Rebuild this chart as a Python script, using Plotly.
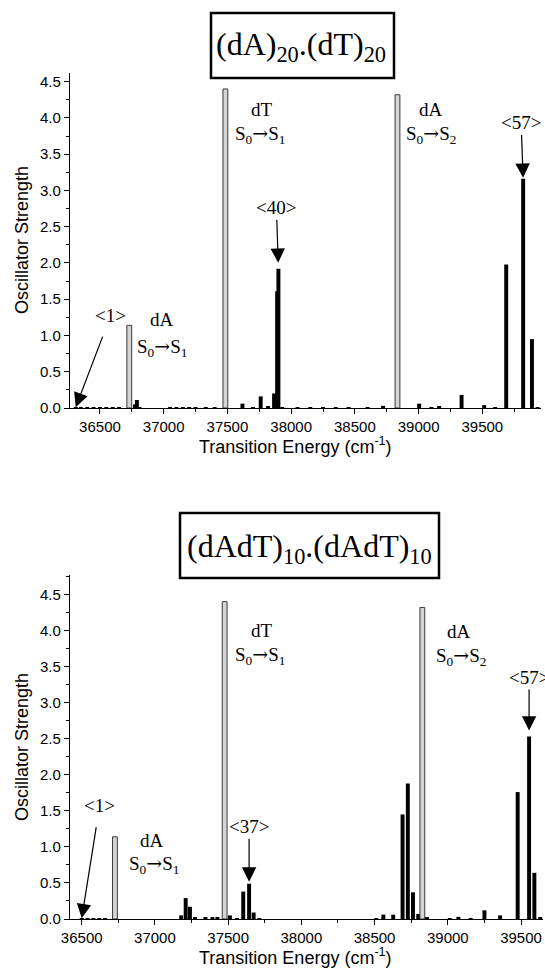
import plotly.graph_objects as go

# ---------------- data ----------------
# Top panel: (dA)20.(dT)20
top_mono_energy = [36730, 37484, 38834]          # monomer transitions (grey bars)
top_mono_strength = [1.14, 4.40, 4.32]
top_energy = [36310, 36350, 36400, 36450, 36500, 36550, 36600, 36650, 36775, 36790, 36810,
              37050, 37100, 37150, 37200, 37250, 37330, 37400, 37618, 37700, 37761, 37819,
              37866, 37890, 37900, 37930, 38050, 38150, 38250, 38350, 38450, 38600, 38721,
              39004, 39100, 39161, 39337, 39514, 39600, 39687, 39820, 39889, 39933]
top_strength = [0.01, 0.005, 0.005, 0.005, 0.005, 0.005, 0.005, 0.005, 0.05, 0.11, 0.01,
                0.005, 0.005, 0.005, 0.005, 0.005, 0.01, 0.005, 0.06, 0.01, 0.16, 0.02,
                0.20, 1.61, 1.92, 0.01, 0.005, 0.005, 0.005, 0.005, 0.005, 0.005, 0.03,
                0.06, 0.01, 0.02, 0.18, 0.04, 0.01, 1.98, 3.16, 0.95, 0.01]

# Bottom panel: (dAdT)10.(dAdT)10
bot_mono_energy = [36727, 37476, 38826]
bot_mono_strength = [1.14, 4.40, 4.32]
bot_energy = [36500, 36540, 36580, 36620, 36660, 37179, 37210, 37239, 37274, 37345, 37393,
              37427, 37512, 37560, 37603, 37643, 37674, 37713, 38511, 38560, 38627, 38691,
              38727, 38762, 38798, 38858, 39013, 39072, 39156, 39250, 39357, 39477, 39555,
              39591, 39631]
bot_strength = [0.01, 0.005, 0.005, 0.005, 0.005, 0.05, 0.29, 0.17, 0.02, 0.02, 0.02,
                0.02, 0.05, 0.01, 0.38, 0.49, 0.09, 0.01, 0.01, 0.06, 0.06, 1.45,
                1.88, 0.37, 0.07, 0.02, 0.01, 0.03, 0.01, 0.12, 0.05, 1.76, 2.53,
                0.64, 0.02]

# labelled states: (label, index into energy list)
top_marks = [("&lt;1&gt;", 0), ("&lt;40&gt;", 24), ("&lt;57&gt;", 40)]
bot_marks = [("&lt;1&gt;", 0), ("&lt;37&gt;", 15), ("&lt;57&gt;", 32)]

y_ticks = [0.0, 0.5, 1.0, 1.5, 2.0, 2.5, 3.0, 3.5, 4.0, 4.5]
x_ticks = [36500, 37000, 37500, 38000, 38500, 39000, 39500]

W, H = 545, 976
def px(x):
    return x / W
def py(y):
    return 1 - y / H

SERIF = "Liberation Serif, Times New Roman, serif"
SANS = "Liberation Sans, Arial, sans-serif"

fig = go.Figure()
fig.add_trace(go.Bar(x=top_energy, y=top_strength, width=31, xaxis="x", yaxis="y",
                     marker=dict(color="black", line=dict(width=0)), showlegend=False))
fig.add_trace(go.Bar(x=top_mono_energy, y=top_mono_strength, width=38, xaxis="x", yaxis="y",
                     marker=dict(color="#d4d4d4", line=dict(color="#3a3a3a", width=1)), showlegend=False))
fig.add_trace(go.Bar(x=bot_energy, y=bot_strength, width=27, xaxis="x2", yaxis="y2",
                     marker=dict(color="black", line=dict(width=0)), showlegend=False))
fig.add_trace(go.Bar(x=bot_mono_energy, y=bot_mono_strength, width=33, xaxis="x2", yaxis="y2",
                     marker=dict(color="#d4d4d4", line=dict(color="#3a3a3a", width=1)), showlegend=False))

axis_common = dict(showline=True, linecolor="black", linewidth=1.3, ticks="outside",
                   ticklen=5, tickwidth=1.3, tickcolor="black", showgrid=False, zeroline=False,
                   automargin=False,
                   tickfont=dict(family=SANS, size=15, color="black"))

fig.update_layout(
    width=W, height=H, margin=dict(l=0, r=0, t=0, b=0, pad=0),
    paper_bgcolor="white", plot_bgcolor="white", barmode="overlay",
    xaxis=dict(domain=[px(70), px(541)], anchor="y", range=[36265, 39960],
               tickvals=x_ticks, tickformat="d",
               minor=dict(dtick=250, tick0=36500, ticks="outside", ticklen=3, tickcolor="black", tickwidth=1),
               **axis_common),
    yaxis=dict(domain=[py(408), py(73)], anchor="x", range=[0, 4.62],
               tickvals=y_ticks, tickformat=".1f",
               minor=dict(dtick=0.25, tick0=0, ticks="outside", ticklen=3, tickcolor="black", tickwidth=1),
               **axis_common),
    xaxis2=dict(domain=[px(70), px(543)], anchor="y2", range=[36420, 39650],
                tickvals=x_ticks, tickformat="d",
                minor=dict(dtick=250, tick0=36500, ticks="outside", ticklen=3, tickcolor="black", tickwidth=1),
                **axis_common),
    yaxis2=dict(domain=[py(919), py(575)], anchor="x2", range=[0, 4.77],
                tickvals=y_ticks, tickformat=".1f",
                minor=dict(dtick=0.25, tick0=0, ticks="outside", ticklen=3, tickcolor="black", tickwidth=1),
                **axis_common),
)

ann = []
shapes = []

def txt(x, y, s, size=19, family=SERIF, angle=0):
    ann.append(dict(x=px(x), y=py(y), xref="paper", yref="paper", text=s, showarrow=False,
                    xanchor="center", yanchor="middle", textangle=angle,
                    font=dict(family=family, size=size, color="black")))

# boxed titles
shapes.append(dict(type="rect", xref="paper", yref="paper", x0=px(211), x1=px(394),
                   y0=py(78), y1=py(13), line=dict(color="black", width=2.5)))
txt(301, 47, "(dA)<sub>20</sub>.(dT)<sub>20</sub>", size=32)
shapes.append(dict(type="rect", xref="paper", yref="paper", x0=px(180), x1=px(439),
                   y0=py(578), y1=py(513), line=dict(color="black", width=2.5)))
txt(309, 548, "(dAdT)<sub>10</sub>.(dAdT)<sub>10</sub>", size=32)

# axis titles
txt(22, 240, "Oscillator Strength", size=18, family=SANS, angle=-90)
txt(22, 747, "Oscillator Strength", size=18, family=SANS, angle=-90)
txt(295, 445, "Transition Energy (cm<sup>-1</sup>)", size=18, family=SANS)
txt(295, 956, "Transition Energy (cm<sup>-1</sup>)", size=18, family=SANS)

# monomer labels
ARROW = "<span style='font-family:DejaVu Serif'>→</span>"
S01 = "S<sub>0</sub>" + ARROW + "S<sub>1</sub>"
S02 = "S<sub>0</sub>" + ARROW + "S<sub>2</sub>"
txt(162, 320, "dA"); txt(162, 347, S01)
txt(262, 109, "dT"); txt(260, 134, S01)
txt(431, 109, "dA"); txt(431, 134, S02)
txt(152, 840, "dA"); txt(154, 864, S01)
txt(262, 630, "dT"); txt(260, 655, S01)
txt(459, 631, "dA"); txt(461, 656, S02)

# arrowed state labels (tip at the bar top, text offset in pixels)
top_offsets = [(35, -92, 0, 10), (-2, -61, 6, 0), (-2, -56, 1, 0)]
bot_offsets = [(18, -113, 0, 10), (0, -57, 2, 0), (0, -59, 6, 0)]
for (lab, i), (ax_, ay_, so, sso) in zip(top_marks, top_offsets):
    ann.append(dict(x=top_energy[i], y=top_strength[i], xref="x", yref="y", text=lab,
                    showarrow=True, ax=ax_, ay=ay_, arrowhead=2, arrowsize=2.4, arrowwidth=1.2,
                    arrowcolor="black", standoff=so, startstandoff=sso,
                    font=dict(family=SERIF, size=19, color="black")))
for (lab, i), (ax_, ay_, so, sso) in zip(bot_marks, bot_offsets):
    ann.append(dict(x=bot_energy[i], y=bot_strength[i], xref="x2", yref="y2", text=lab,
                    showarrow=True, ax=ax_, ay=ay_, arrowhead=2, arrowsize=2.4, arrowwidth=1.2,
                    arrowcolor="black", standoff=so, startstandoff=sso,
                    font=dict(family=SERIF, size=19, color="black")))

fig.update_layout(annotations=ann, shapes=shapes)
fig.write_html("out.html", config={"displayModeBar": False},
               post_script="document.body.style.margin='0';document.body.style.overflow='hidden';")
